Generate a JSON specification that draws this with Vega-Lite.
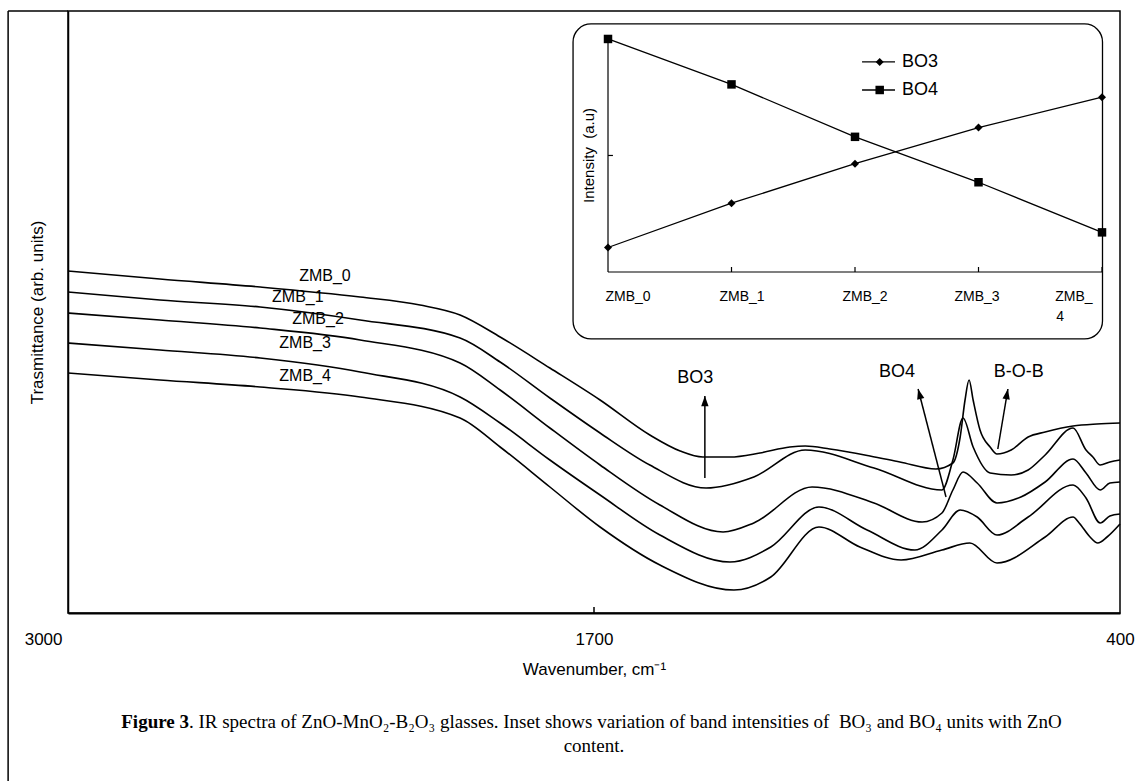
{
  "$schema": "https://vega.github.io/schema/vega-lite/v6.json",
  "width": 1052,
  "height": 602,
  "autosize": {"type": "none"},
  "padding": {"left": 68, "top": 11, "right": 16, "bottom": 168},
  "background": "white",
  "config": {
    "view": {"stroke": "#000", "strokeWidth": 1.5},
    "text": {"font": "Liberation Sans", "color": "#000"},
    "axis": {"labelFont": "Liberation Sans", "titleFont": "Liberation Sans"}
  },
  "datasets": {
    "spectra": [
      {"s":"ZMB_0","wn":3000,"t":342},{"s":"ZMB_0","wn":2773,"t":334},{"s":"ZMB_0","wn":2525,"t":326},{"s":"ZMB_0","wn":2278,"t":316},{"s":"ZMB_0","wn":2130,"t":308},{"s":"ZMB_0","wn":2031,"t":298},{"s":"ZMB_0","wn":1932,"t":276},{"s":"ZMB_0","wn":1809,"t":245},{"s":"ZMB_0","wn":1685,"t":213},{"s":"ZMB_0","wn":1562,"t":178},{"s":"ZMB_0","wn":1487,"t":162},{"s":"ZMB_0","wn":1431,"t":156},{"s":"ZMB_0","wn":1364,"t":156},{"s":"ZMB_0","wn":1290,"t":160},{"s":"ZMB_0","wn":1216,"t":166},{"s":"ZMB_0","wn":1178,"t":167},{"s":"ZMB_0","wn":1117,"t":164},{"s":"ZMB_0","wn":1018,"t":157},{"s":"ZMB_0","wn":944,"t":151},{"s":"ZMB_0","wn":855,"t":144},{"s":"ZMB_0","wn":813,"t":150},{"s":"ZMB_0","wn":795,"t":176},{"s":"ZMB_0","wn":783,"t":213},{"s":"ZMB_0","wn":773,"t":233},{"s":"ZMB_0","wn":763,"t":213},{"s":"ZMB_0","wn":746,"t":183},{"s":"ZMB_0","wn":721,"t":166},{"s":"ZMB_0","wn":704,"t":159},{"s":"ZMB_0","wn":669,"t":163},{"s":"ZMB_0","wn":627,"t":176},{"s":"ZMB_0","wn":585,"t":181},{"s":"ZMB_0","wn":516,"t":187},{"s":"ZMB_0","wn":457,"t":189},{"s":"ZMB_0","wn":400,"t":190},
      {"s":"ZMB_1","wn":3000,"t":321},{"s":"ZMB_1","wn":2773,"t":313},{"s":"ZMB_1","wn":2525,"t":306},{"s":"ZMB_1","wn":2278,"t":293},{"s":"ZMB_1","wn":2031,"t":275},{"s":"ZMB_1","wn":1932,"t":251},{"s":"ZMB_1","wn":1809,"t":215},{"s":"ZMB_1","wn":1685,"t":180},{"s":"ZMB_1","wn":1562,"t":148},{"s":"ZMB_1","wn":1423,"t":125},{"s":"ZMB_1","wn":1305,"t":136},{"s":"ZMB_1","wn":1178,"t":163},{"s":"ZMB_1","wn":1008,"t":145},{"s":"ZMB_1","wn":840,"t":123},{"s":"ZMB_1","wn":813,"t":153},{"s":"ZMB_1","wn":788,"t":195},{"s":"ZMB_1","wn":763,"t":166},{"s":"ZMB_1","wn":721,"t":140},{"s":"ZMB_1","wn":669,"t":138},{"s":"ZMB_1","wn":627,"t":143},{"s":"ZMB_1","wn":585,"t":158},{"s":"ZMB_1","wn":516,"t":185},{"s":"ZMB_1","wn":484,"t":163},{"s":"ZMB_1","wn":467,"t":156},{"s":"ZMB_1","wn":449,"t":148},{"s":"ZMB_1","wn":425,"t":151},{"s":"ZMB_1","wn":400,"t":153},
      {"s":"ZMB_2","wn":3000,"t":300},{"s":"ZMB_2","wn":2773,"t":293},{"s":"ZMB_2","wn":2525,"t":285},{"s":"ZMB_2","wn":2278,"t":273},{"s":"ZMB_2","wn":2031,"t":250},{"s":"ZMB_2","wn":1932,"t":223},{"s":"ZMB_2","wn":1809,"t":185},{"s":"ZMB_2","wn":1685,"t":148},{"s":"ZMB_2","wn":1537,"t":108},{"s":"ZMB_2","wn":1381,"t":81},{"s":"ZMB_2","wn":1305,"t":90},{"s":"ZMB_2","wn":1161,"t":126},{"s":"ZMB_2","wn":1008,"t":110},{"s":"ZMB_2","wn":889,"t":91},{"s":"ZMB_2","wn":840,"t":100},{"s":"ZMB_2","wn":813,"t":123},{"s":"ZMB_2","wn":788,"t":141},{"s":"ZMB_2","wn":753,"t":130},{"s":"ZMB_2","wn":704,"t":110},{"s":"ZMB_2","wn":645,"t":116},{"s":"ZMB_2","wn":585,"t":131},{"s":"ZMB_2","wn":516,"t":154},{"s":"ZMB_2","wn":484,"t":140},{"s":"ZMB_2","wn":449,"t":123},{"s":"ZMB_2","wn":425,"t":130},{"s":"ZMB_2","wn":400,"t":131},
      {"s":"ZMB_3","wn":3000,"t":270},{"s":"ZMB_3","wn":2773,"t":263},{"s":"ZMB_3","wn":2525,"t":255},{"s":"ZMB_3","wn":2278,"t":241},{"s":"ZMB_3","wn":2031,"t":216},{"s":"ZMB_3","wn":1932,"t":190},{"s":"ZMB_3","wn":1809,"t":153},{"s":"ZMB_3","wn":1685,"t":118},{"s":"ZMB_3","wn":1537,"t":78},{"s":"ZMB_3","wn":1364,"t":51},{"s":"ZMB_3","wn":1263,"t":66},{"s":"ZMB_3","wn":1144,"t":106},{"s":"ZMB_3","wn":1025,"t":83},{"s":"ZMB_3","wn":907,"t":63},{"s":"ZMB_3","wn":840,"t":83},{"s":"ZMB_3","wn":795,"t":103},{"s":"ZMB_3","wn":753,"t":96},{"s":"ZMB_3","wn":704,"t":78},{"s":"ZMB_3","wn":627,"t":96},{"s":"ZMB_3","wn":516,"t":128},{"s":"ZMB_3","wn":484,"t":115},{"s":"ZMB_3","wn":449,"t":90},{"s":"ZMB_3","wn":425,"t":97},{"s":"ZMB_3","wn":400,"t":99},
      {"s":"ZMB_4","wn":3000,"t":240},{"s":"ZMB_4","wn":2773,"t":233},{"s":"ZMB_4","wn":2525,"t":226},{"s":"ZMB_4","wn":2278,"t":216},{"s":"ZMB_4","wn":2031,"t":195},{"s":"ZMB_4","wn":1932,"t":166},{"s":"ZMB_4","wn":1809,"t":126},{"s":"ZMB_4","wn":1685,"t":86},{"s":"ZMB_4","wn":1537,"t":48},{"s":"ZMB_4","wn":1354,"t":23},{"s":"ZMB_4","wn":1263,"t":36},{"s":"ZMB_4","wn":1144,"t":86},{"s":"ZMB_4","wn":1043,"t":66},{"s":"ZMB_4","wn":941,"t":53},{"s":"ZMB_4","wn":840,"t":63},{"s":"ZMB_4","wn":771,"t":70},{"s":"ZMB_4","wn":704,"t":50},{"s":"ZMB_4","wn":585,"t":76},{"s":"ZMB_4","wn":516,"t":96},{"s":"ZMB_4","wn":501,"t":90},{"s":"ZMB_4","wn":474,"t":76},{"s":"ZMB_4","wn":455,"t":70},{"s":"ZMB_4","wn":432,"t":76},{"s":"ZMB_4","wn":400,"t":89}
    ],
    "curvelabels": [
      {"label":"ZMB_0","wn":2365,"t":337},
      {"label":"ZMB_1","wn":2432,"t":316},
      {"label":"ZMB_2","wn":2382,"t":294},
      {"label":"ZMB_3","wn":2414,"t":270},
      {"label":"ZMB_4","wn":2414,"t":237}
    ],
    "annot": [
      {"label":"BO3","wn":1450,"t":235},
      {"label":"BO4","wn":951,"t":241},
      {"label":"B-O-B","wn":650,"t":241}
    ],
    "arrows": [
      {"label":"BO3","wn":1426,"t":217,"wn2":1426,"t2":135},
      {"label":"BO4","wn":899,"t":224,"wn2":830,"t2":116},
      {"label":"B-O-B","wn":677,"t":224,"wn2":702,"t2":164}
    ],
    "frame": [
      {"wn":3148,"t":602,"wn2":3148,"t2":-200},
      {"wn":3148,"t":602,"wn2":3000,"t2":602},
      {"wn":1700,"t":0,"wn2":1700,"t2":6}
    ],
    "caption": [
      {"part":"bold","text":"Figure 3","wn":2701,"t":-109},
      {"part":"regular","text":". IR spectra of ZnO-MnO₂-B₂O₃ glasses. Inset shows variation of band intensities of\u00a0 BO₃ and BO₄ units with ZnO","wn":2701,"t":-109},
      {"part":"line2","text":"content.","wn":1700,"t":-133}
    ],
    "inset": [
      {"series":"BO3","ix":0,"iv":0.21},{"series":"BO3","ix":1,"iv":0.59},{"series":"BO3","ix":2,"iv":0.93},{"series":"BO3","ix":3,"iv":1.24},{"series":"BO3","ix":4,"iv":1.50},
      {"series":"BO4","ix":0,"iv":2.0},{"series":"BO4","ix":1,"iv":1.61},{"series":"BO4","ix":2,"iv":1.16},{"series":"BO4","ix":3,"iv":0.77},{"series":"BO4","ix":4,"iv":0.34}
    ],
    "insetbox": [{"ix":-0.283,"ix2":4.004,"iv":2.129,"iv2":-0.575}],
    "insetaxes": [
      {"ix":0,"iv":0,"ix2":0,"iv2":2},
      {"ix":0,"iv":0,"ix2":4,"iv2":0},
      {"ix":0,"iv":1,"ix2":0.04,"iv2":1},
      {"ix":1,"iv":0,"ix2":1,"iv2":0.043},
      {"ix":2,"iv":0,"ix2":2,"iv2":0.043},
      {"ix":3,"iv":0,"ix2":3,"iv2":0.043},
      {"ix":4,"iv":0,"ix2":4,"iv2":0.043}
    ],
    "insetlabels": [
      {"text":"ZMB_0","ix":0.162,"iv":-0.215},
      {"text":"ZMB_1","ix":1.085,"iv":-0.215},
      {"text":"ZMB_2","ix":2.081,"iv":-0.215},
      {"text":"ZMB_3","ix":2.988,"iv":-0.215},
      {"text":"ZMB_","ix":3.773,"iv":-0.215},
      {"text":"4","ix":3.66,"iv":-0.386}
    ],
    "insetlegend": [
      {"series":"BO3","ix":2.057,"ix2":2.324,"im":2.2,"it":2.381,"iv":1.803},
      {"series":"BO4","ix":2.057,"ix2":2.324,"im":2.2,"it":2.381,"iv":1.562}
    ],
    "insettitle": [{"text":"Intensity\u00a0\u00a0(a.u)","ix":-0.154,"iv":1.0}]
  },
  "layer": [
    {
      "layer": [
        {
          "data": {"name": "spectra"},
          "mark": {"type": "line", "color": "#000", "strokeWidth": 1.6, "interpolate": "monotone"},
          "encoding": {
            "x": {"field": "wn", "type": "quantitative",
                  "scale": {"domain": [400, 3000], "reverse": true, "nice": false, "zero": false},
                  "axis": {"values": [3000, 1700, 400], "format": "d", "title": "Wavenumber, cm⁻¹",
                           "grid": false, "ticks": false, "labelFlush": false, "labelOverlap": false,
                           "labelPadding": 18, "labelFontSize": 17, "labelColor": "#000",
                           "labelAlign": {"condition": {"test": "datum.value == 3000", "value": "right"}, "value": "center"},
                           "labelOffset": {"condition": {"test": "datum.value == 3000", "value": -6}, "value": 0},
                           "domainColor": "#000", "domainWidth": 2,
                           "titleFontSize": 17, "titleFontWeight": "normal", "titleColor": "#000", "titlePadding": 14}},
            "y": {"field": "t", "type": "quantitative",
                  "scale": {"domain": [0, 602], "nice": false, "zero": false},
                  "axis": {"title": "Trasmittance (arb. units)", "labels": false, "ticks": false, "grid": false,
                           "domainColor": "#000", "domainWidth": 1.5, "titlePadding": 22,
                           "titleFontSize": 17, "titleFontWeight": "normal", "titleColor": "#000"}},
            "detail": {"field": "s", "type": "nominal"}
          }
        },
        {
          "data": {"name": "curvelabels"},
          "mark": {"type": "text", "fontSize": 16, "align": "center", "baseline": "middle"},
          "encoding": {
            "x": {"field": "wn", "type": "quantitative"},
            "y": {"field": "t", "type": "quantitative"},
            "text": {"field": "label"}
          }
        },
        {
          "data": {"name": "annot"},
          "mark": {"type": "text", "fontSize": 18, "align": "center", "baseline": "middle"},
          "encoding": {
            "x": {"field": "wn", "type": "quantitative"},
            "y": {"field": "t", "type": "quantitative"},
            "text": {"field": "label"}
          }
        },
        {
          "data": {"name": "arrows"},
          "mark": {"type": "rule", "color": "#000", "strokeWidth": 1.5},
          "encoding": {
            "x": {"field": "wn", "type": "quantitative"},
            "y": {"field": "t", "type": "quantitative"},
            "x2": {"field": "wn2"},
            "y2": {"field": "t2"}
          }
        },
        {
          "data": {"name": "arrows"},
          "mark": {"type": "point", "shape": "M0,0L-0.36,1L0.36,1Z", "size": 420, "filled": true, "color": "#000", "opacity": 1},
          "encoding": {
            "x": {"field": "wn", "type": "quantitative"},
            "y": {"field": "t", "type": "quantitative"},
            "angle": {"condition": [{"test": "datum.label === 'BO4'", "value": 345}, {"test": "datum.label === 'B-O-B'", "value": 10}], "value": 0}
          }
        },
        {
          "data": {"name": "frame"},
          "mark": {"type": "rule", "color": "#000", "strokeWidth": 1.5},
          "encoding": {
            "x": {"field": "wn", "type": "quantitative"},
            "y": {"field": "t", "type": "quantitative"},
            "x2": {"field": "wn2"},
            "y2": {"field": "t2"}
          }
        },
        {
          "data": {"name": "caption"},
          "transform": [{"filter": "datum.part === 'bold'"}],
          "mark": {"type": "text", "font": "Liberation Serif", "fontSize": 19, "fontWeight": "bold", "align": "right", "baseline": "middle"},
          "encoding": {
            "x": {"field": "wn", "type": "quantitative"},
            "y": {"field": "t", "type": "quantitative"},
            "text": {"field": "text"}
          }
        },
        {
          "data": {"name": "caption"},
          "transform": [{"filter": "datum.part === 'regular'"}],
          "mark": {"type": "text", "font": "Liberation Serif", "fontSize": 19, "align": "left", "baseline": "middle"},
          "encoding": {
            "x": {"field": "wn", "type": "quantitative"},
            "y": {"field": "t", "type": "quantitative"},
            "text": {"field": "text"}
          }
        },
        {
          "data": {"name": "caption"},
          "transform": [{"filter": "datum.part === 'line2'"}],
          "mark": {"type": "text", "font": "Liberation Serif", "fontSize": 19, "align": "center", "baseline": "middle"},
          "encoding": {
            "x": {"field": "wn", "type": "quantitative"},
            "y": {"field": "t", "type": "quantitative"},
            "text": {"field": "text"}
          }
        }
      ]
    },
    {
      "layer": [
        {
          "data": {"name": "insetbox"},
          "mark": {"type": "rect", "fill": "white", "stroke": "#000", "strokeWidth": 1.3, "cornerRadius": 18},
          "encoding": {
            "x": {"field": "ix", "type": "quantitative", "scale": {"domain": [-4.3725, 4.1457], "nice": false, "zero": false}, "axis": null},
            "y": {"field": "iv", "type": "quantitative", "scale": {"domain": [-2.927, 2.240], "nice": false, "zero": false}, "axis": null},
            "x2": {"field": "ix2"},
            "y2": {"field": "iv2"}
          }
        },
        {
          "data": {"name": "insetaxes"},
          "mark": {"type": "rule", "color": "#000", "strokeWidth": 1.2},
          "encoding": {
            "x": {"field": "ix", "type": "quantitative", "axis": null},
            "y": {"field": "iv", "type": "quantitative", "axis": null},
            "x2": {"field": "ix2"},
            "y2": {"field": "iv2"}
          }
        },
        {
          "data": {"name": "inset"},
          "mark": {"type": "line", "color": "#000", "strokeWidth": 1.3},
          "encoding": {
            "x": {"field": "ix", "type": "quantitative", "axis": null},
            "y": {"field": "iv", "type": "quantitative", "axis": null},
            "detail": {"field": "series", "type": "nominal"}
          }
        },
        {
          "data": {"name": "inset"},
          "mark": {"type": "point", "filled": true, "color": "#000", "opacity": 1},
          "encoding": {
            "x": {"field": "ix", "type": "quantitative", "axis": null},
            "y": {"field": "iv", "type": "quantitative", "axis": null},
            "shape": {"field": "series", "type": "nominal", "scale": {"domain": ["BO3", "BO4"], "range": ["diamond", "square"]}, "legend": null},
            "size": {"field": "series", "type": "nominal", "scale": {"domain": ["BO3", "BO4"], "range": [64, 72]}, "legend": null}
          }
        },
        {
          "data": {"name": "insetlegend"},
          "mark": {"type": "rule", "color": "#000", "strokeWidth": 1.3},
          "encoding": {
            "x": {"field": "ix", "type": "quantitative", "axis": null},
            "x2": {"field": "ix2"},
            "y": {"field": "iv", "type": "quantitative", "axis": null}
          }
        },
        {
          "data": {"name": "insetlegend"},
          "mark": {"type": "point", "filled": true, "color": "#000", "opacity": 1},
          "encoding": {
            "x": {"field": "im", "type": "quantitative", "axis": null},
            "y": {"field": "iv", "type": "quantitative", "axis": null},
            "shape": {"field": "series", "type": "nominal", "scale": {"domain": ["BO3", "BO4"], "range": ["diamond", "square"]}, "legend": null},
            "size": {"field": "series", "type": "nominal", "scale": {"domain": ["BO3", "BO4"], "range": [64, 72]}, "legend": null}
          }
        },
        {
          "data": {"name": "insetlegend"},
          "mark": {"type": "text", "fontSize": 18, "align": "left", "baseline": "middle"},
          "encoding": {
            "x": {"field": "it", "type": "quantitative", "axis": null},
            "y": {"field": "iv", "type": "quantitative", "axis": null},
            "text": {"field": "series"}
          }
        },
        {
          "data": {"name": "insetlabels"},
          "mark": {"type": "text", "fontSize": 14, "align": "center", "baseline": "middle"},
          "encoding": {
            "x": {"field": "ix", "type": "quantitative", "axis": null},
            "y": {"field": "iv", "type": "quantitative", "axis": null},
            "text": {"field": "text"}
          }
        },
        {
          "data": {"name": "insettitle"},
          "mark": {"type": "text", "fontSize": 15, "align": "center", "baseline": "middle", "angle": 270},
          "encoding": {
            "x": {"field": "ix", "type": "quantitative", "axis": null},
            "y": {"field": "iv", "type": "quantitative", "axis": null},
            "text": {"field": "text"}
          }
        }
      ]
    }
  ],
  "resolve": {"scale": {"x": "independent", "y": "independent", "shape": "independent", "size": "independent"}, "axis": {"x": "independent", "y": "independent"}}
}
